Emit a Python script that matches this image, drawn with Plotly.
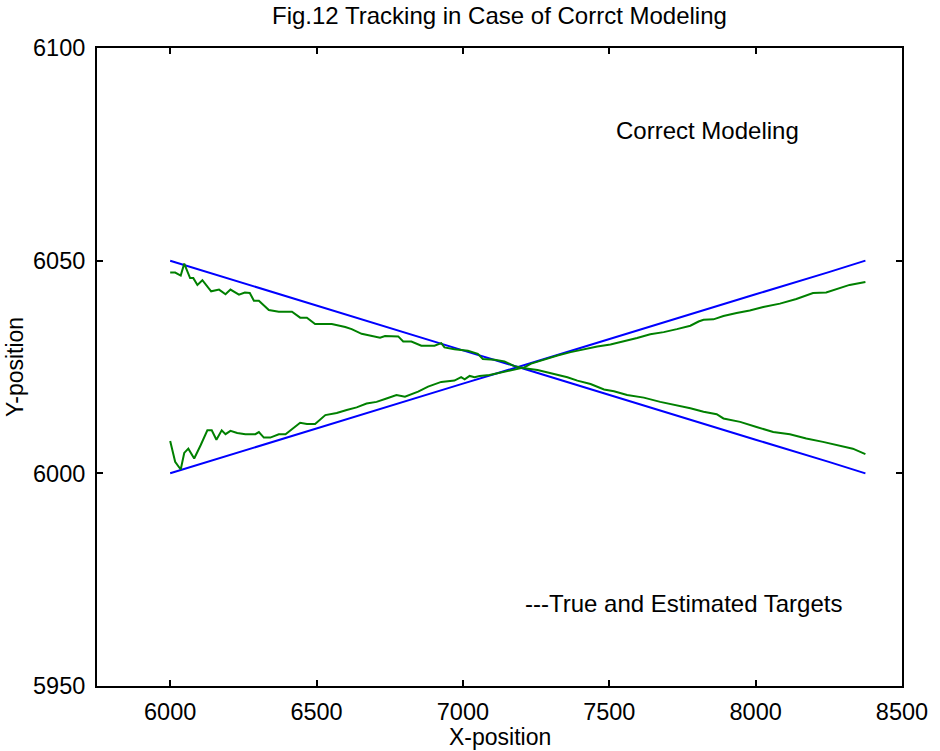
import plotly.graph_objects as go

# True target tracks (blue)
true_x = [6000, 6250, 6500, 6750, 7000, 7250, 7500, 7750, 8000, 8250, 8375]
true_down_y = [6050.0, 6044.7, 6039.5, 6034.2, 6028.9, 6023.7, 6018.4, 6013.2, 6007.9, 6002.7, 6000.0]
true_up_y = [6000.0, 6005.3, 6010.5, 6015.8, 6021.1, 6026.3, 6031.6, 6036.8, 6042.1, 6047.3, 6050.0]

# Estimated track 1 (green, descending)
est1_x = [6000, 6017, 6036, 6048, 6068, 6079, 6093, 6110, 6140, 6167, 6189, 6206, 6235, 6255, 6272,
          6286, 6303, 6337, 6371, 6416, 6444, 6467, 6495, 6552, 6598, 6620, 6654, 6688, 6717, 6734,
          6779, 6796, 6824, 6858, 6903, 6926, 6937, 6971, 7017, 7051, 7068, 7108, 7142, 7176, 7210,
          7255, 7278, 7312, 7357, 7391, 7436, 7482, 7516, 7561, 7618, 7674, 7731, 7777, 7822, 7867,
          7890, 7947, 8003, 8060, 8117, 8173, 8230, 8287, 8332, 8375]
est1_y = [6047.2, 6047.2, 6046.5, 6049.3, 6045.9, 6045.9, 6044.3, 6045.4, 6042.8, 6043.2, 6042.1,
          6043.2, 6042.0, 6042.5, 6042.4, 6040.6, 6040.6, 6038.4, 6038.0, 6038.0, 6036.6, 6036.6,
          6035.1, 6035.1, 6034.4, 6033.9, 6032.8, 6032.3, 6031.9, 6032.3, 6032.2, 6031.0, 6031.0,
          6030.0, 6030.0, 6030.6, 6029.6, 6029.2, 6028.8, 6028.1, 6026.9, 6026.7, 6026.3, 6025.2,
          6024.7, 6024.3, 6023.9, 6023.3, 6022.6, 6021.8, 6021.0, 6019.7, 6019.3, 6018.4, 6017.8,
          6016.8, 6016.0, 6015.3, 6014.5, 6013.9, 6012.9, 6012.1, 6010.9, 6009.7, 6009.2, 6008.2,
          6007.4, 6006.6, 6005.8, 6004.5]

# Estimated track 2 (green, ascending)
est2_x = [6000, 6017, 6036, 6048, 6062, 6082, 6104, 6127, 6142, 6158, 6176, 6189, 6206, 6229, 6257,
          6291, 6303, 6320, 6342, 6371, 6394, 6428, 6444, 6467, 6495, 6530, 6569, 6603, 6637, 6671,
          6705, 6739, 6773, 6802, 6847, 6881, 6926, 6971, 6994, 7006, 7023, 7040, 7057, 7091, 7130,
          7164, 7210, 7233, 7278, 7323, 7368, 7414, 7459, 7504, 7550, 7595, 7640, 7686, 7731, 7777,
          7805, 7822, 7856, 7890, 7935, 7980, 8026, 8083, 8139, 8196, 8241, 8276, 8321, 8375]
est2_y = [6007.6, 6002.7, 6000.9, 6004.8, 6005.8, 6003.5, 6006.6, 6010.1, 6010.1, 6007.9, 6010.1,
          6009.2, 6010.0, 6009.5, 6009.2, 6009.2, 6009.7, 6008.4, 6008.4, 6009.2, 6009.2, 6010.9,
          6011.9, 6011.6, 6011.6, 6013.7, 6014.2, 6014.9, 6015.5, 6016.4, 6016.8, 6017.6, 6018.4,
          6018.0, 6019.2, 6020.4, 6021.5, 6021.8, 6022.6, 6022.1, 6022.9, 6022.6, 6022.9, 6023.1,
          6023.7, 6024.3, 6024.9, 6025.8, 6026.8, 6027.7, 6028.5, 6029.2, 6029.8, 6030.3, 6031.0,
          6031.8, 6032.7, 6033.2, 6033.9, 6034.7, 6035.7, 6036.1, 6036.2, 6037.0, 6037.7, 6038.3,
          6039.1, 6039.9, 6041.0, 6042.4, 6042.5, 6043.3, 6044.3, 6045.0]

x_ticks = [6000, 6500, 7000, 7500, 8000, 8500]
y_ticks = [5950, 6000, 6050, 6100]

FONT = "Liberation Sans, Arial, sans-serif"
BLUE = "#0000ff"
GREEN = "#008000"
TXT = 24

fig = go.Figure()
fig.add_trace(go.Scatter(x=true_x, y=true_down_y, mode="lines", line=dict(color=BLUE, width=2)))
fig.add_trace(go.Scatter(x=true_x, y=true_up_y, mode="lines", line=dict(color=BLUE, width=2)))
fig.add_trace(go.Scatter(x=est1_x, y=est1_y, mode="lines", line=dict(color=GREEN, width=2)))
fig.add_trace(go.Scatter(x=est2_x, y=est2_y, mode="lines", line=dict(color=GREEN, width=2)))

axis_common = dict(
    showline=True, linecolor="black", linewidth=2, mirror="ticks",
    ticks="inside", ticklen=6, tickwidth=1.5, tickcolor="black",
    showgrid=False, zeroline=False,
    tickfont=dict(family=FONT, size=23.5, color="black"),
)

fig.update_layout(
    width=940, height=751,
    margin=dict(l=97, r=34, t=48, b=65),
    paper_bgcolor="white", plot_bgcolor="white",
    showlegend=False,
    font=dict(family=FONT, size=TXT, color="black"),
    xaxis=dict(range=[5750, 8500], tickvals=x_ticks, ticktext=[str(v) for v in x_ticks],
               ticklabelstandoff=4, **axis_common),
    yaxis=dict(range=[5950, 6100], tickvals=y_ticks, ticktext=[str(v) for v in y_ticks],
               ticklabelstandoff=5, **axis_common),
    annotations=[
        dict(text="Fig.12 Tracking in Case of Corrct Modeling", xref="paper", yref="paper",
             x=0.5, y=1, yshift=33, xanchor="center", yanchor="middle", showarrow=False,
             font=dict(family=FONT, size=TXT)),
        dict(text="X-position", xref="paper", yref="paper", x=0.5, y=0, yshift=-51,
             xanchor="center", yanchor="middle", showarrow=False, font=dict(family=FONT, size=23)),
        dict(text="Y-position", xref="paper", yref="paper", x=0, y=0.5, xshift=-82,
             xanchor="center", yanchor="middle", textangle=-90, showarrow=False,
             font=dict(family=FONT, size=23)),
        dict(text="Correct Modeling", x=7515, y=6080.7, xanchor="left", yanchor="middle",
             showarrow=False, font=dict(family=FONT, size=TXT)),
        dict(text="---True and Estimated Targets", x=7204, y=5969.3, xanchor="left", yanchor="middle",
             showarrow=False, font=dict(family=FONT, size=TXT)),
    ],
)

fig.write_html("out.html")
